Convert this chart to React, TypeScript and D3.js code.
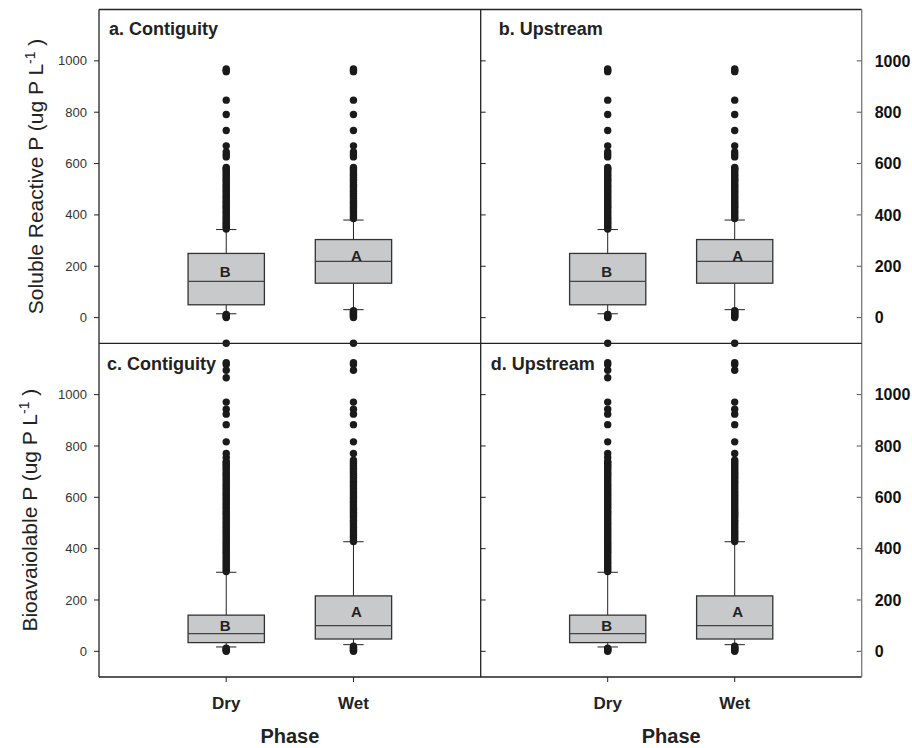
import React from 'react';
import * as d3 from 'd3';

// Categories and axis ticks
const phases = ['Dry', 'Wet'];
const yTicks = [0, 200, 400, 600, 800, 1000];

// Soluble reactive P box statistics (Dry, Wet)
const srpLow = [15, 31];
const srpQ1 = [50, 134];
const srpMedian = [141, 219];
const srpQ3 = [250, 304];
const srpHigh = [343, 380];
const srpLetters = ['B', 'A'];
const srpLetterAt = [178, 243];

// Bioavailable P box statistics (Dry, Wet)
const bapLow = [17, 26];
const bapQ1 = [34, 48];
const bapMedian = [69, 100];
const bapQ3 = [141, 216];
const bapHigh = [308, 427];
const bapLetters = ['B', 'A'];
const bapLetterAt = [100, 153];

// Outliers
const srpDryOut = [0, 3, 6, 9, 12,
  345, 352, 358, 366, 371, 379, 386, 392, 400, 407, 413, 421, 428, 434, 442, 449, 455, 463, 470,
  476, 484, 491, 497, 505, 512, 518, 526, 533, 539, 547, 554, 561, 568, 575, 580, 585,
  626, 635, 645, 669, 729, 791, 847, 958, 963, 968];
const srpWetOut = [0, 4, 8, 12, 16, 20, 24, 27,
  386, 392, 400, 407, 413, 421, 428, 434, 442, 449, 455, 463, 470,
  476, 484, 491, 497, 505, 512, 518, 526, 533, 539, 547, 554, 561, 568, 575, 580, 585,
  626, 635, 645, 669, 729, 791, 847, 958, 963, 968];
const bapDryOut = [0, 3, 6, 9, 12,
  311, 318, 326, 333, 341, 348, 356, 364, 371, 379, 386, 394, 402, 409, 417, 424, 432, 440,
  447, 455, 462, 470, 478, 485, 493, 500, 508, 516, 523, 531, 538, 546, 554, 561, 569, 576,
  584, 592, 599, 607, 614, 622, 630, 637, 645, 652, 660, 668, 675, 683, 690, 698, 706, 713,
  721, 728, 735, 740, 755, 771, 816, 883, 924, 943, 971, 1066, 1095, 1117, 1124, 1200];
const bapWetOut = [0, 4, 8, 12, 16, 20,
  428, 435, 443, 450, 458, 466, 473, 481, 488, 496, 504, 511, 519, 526, 534, 542, 549, 557,
  564, 572, 580, 587, 595, 602, 610, 618, 625, 633, 640, 648, 656, 663, 671, 678, 686, 694,
  701, 709, 716, 724, 732, 739, 745, 771, 816, 883, 924, 943, 971, 1095, 1117, 1124, 1200];

const FONT = '"Liberation Sans", Arial, Helvetica, sans-serif';
const frame = { left: 99, mid: 480.7, right: 861.7, top: 9.5, midY: 343.3, bottom: 677 };

type Stats = {
  low: number[]; q1: number[]; median: number[]; q3: number[]; high: number[];
  letters: string[]; letterAt: number[]; outliers: number[][];
};

const srp: Stats = { low: srpLow, q1: srpQ1, median: srpMedian, q3: srpQ3, high: srpHigh,
  letters: srpLetters, letterAt: srpLetterAt, outliers: [srpDryOut, srpWetOut] };
const bap: Stats = { low: bapLow, q1: bapQ1, median: bapMedian, q3: bapQ3, high: bapHigh,
  letters: bapLetters, letterAt: bapLetterAt, outliers: [bapDryOut, bapWetOut] };

type PanelProps = {
  x0: number; x1: number; y0: number; y1: number; stats: Stats;
  title: string; tdx: number; tdy: number; side: 'left' | 'right'; showX: boolean;
};

const Panel = ({ x0, x1, y0, y1, stats, title, tdx, tdy, side, showX }: PanelProps) => {
  const x = d3.scaleLinear().domain([0, 3]).range([x0, x1]);
  const y = d3.scaleLinear().domain([-100, 1200]).range([y1, y0]);
  const halfBox = 0.3;
  const halfCap = 0.08;

  return (
    <g>
      {/* y ticks on the left edge */}
      {yTicks.map(t => (
        <line key={'lt' + t}
          x1={side === 'left' ? x0 - 5 : x0} x2={side === 'left' ? x0 : x0 + 5}
          y1={y(t)} y2={y(t)} stroke="#222" strokeWidth={1} />
      ))}
      {side === 'left' && yTicks.map(t => (
        <text key={'ll' + t} x={x0 - 12} y={y(t)} dy="0.35em" textAnchor="end"
          fontFamily={FONT} fontSize={13} fill="#333">{t}</text>
      ))}
      {side === 'right' && yTicks.map(t => (
        <g key={'rt' + t}>
          <line x1={x1 - 5} x2={x1} y1={y(t)} y2={y(t)} stroke="#555" strokeWidth={1} />
          <text x={x1 + 13} y={y(t)} dy="0.36em" fontFamily={FONT} fontSize={16}
            fontWeight="bold" fill="#111">{t}</text>
        </g>
      ))}

      {phases.map((p, i) => {
        const cx = x(i + 1);
        return (
          <g key={p}>
            {/* whiskers */}
            <line x1={cx} x2={cx} y1={y(stats.q3[i])} y2={y(stats.high[i])} stroke="#222" strokeWidth={1} />
            <line x1={cx} x2={cx} y1={y(stats.q1[i])} y2={y(stats.low[i])} stroke="#222" strokeWidth={1} />
            {/* box */}
            <rect x={x(i + 1 - halfBox)} width={x(i + 1 + halfBox) - x(i + 1 - halfBox)}
              y={y(stats.q3[i])} height={y(stats.q1[i]) - y(stats.q3[i])}
              fill="#c8c9cb" stroke="#333" strokeWidth={1.3} />
            <line x1={x(i + 1 - halfBox)} x2={x(i + 1 + halfBox)}
              y1={y(stats.median[i])} y2={y(stats.median[i])} stroke="#444" strokeWidth={1.3} />
            {/* outliers */}
            {stats.outliers[i].map((v, j) => (
              <circle key={j} cx={cx} cy={y(v)} r={3.7} fill="#1a1a1a" />
            ))}
            {/* caps */}
            <line x1={x(i + 1 - halfCap)} x2={x(i + 1 + halfCap)}
              y1={y(stats.high[i])} y2={y(stats.high[i])} stroke="#222" strokeWidth={1} />
            <line x1={x(i + 1 - halfCap)} x2={x(i + 1 + halfCap)}
              y1={y(stats.low[i])} y2={y(stats.low[i])} stroke="#222" strokeWidth={1} />
            <text x={cx + (i === 1 ? 3 : -1)} y={y(stats.letterAt[i])} dy="0.36em" textAnchor="middle"
              fontFamily={FONT} fontSize={15} fontWeight="bold" fill="#222">{stats.letters[i]}</text>
            {showX && (
              <g>
                <line x1={cx} x2={cx} y1={y1} y2={y1 + 5} stroke="#222" strokeWidth={1} />
                <text x={cx} y={709} textAnchor="middle" fontFamily={FONT} fontSize={17}
                  fontWeight="bold" fill="#222">{p}</text>
              </g>
            )}
          </g>
        );
      })}

      <text x={x0 + tdx} y={y0 + tdy} fontFamily={FONT} fontSize={18} fontWeight="bold" fill="#222">{title}</text>
    </g>
  );
};

export default function App() {
  const f = frame;
  return (
    <svg width={912} height={748} style={{ position: 'absolute', left: 0, top: 0, background: '#fff' }}>
      <rect x={0} y={0} width={912} height={748} fill="#fff" />
      <Panel x0={f.left} x1={f.mid} y0={f.top} y1={f.midY} stats={srp} title="a. Contiguity"
        tdx={10} tdy={25.5} side="left" showX={false} />
      <Panel x0={f.mid} x1={f.right} y0={f.top} y1={f.midY} stats={srp} title="b. Upstream"
        tdx={18} tdy={25.5} side="right" showX={false} />
      <Panel x0={f.left} x1={f.mid} y0={f.midY} y1={f.bottom} stats={bap} title="c. Contiguity"
        tdx={8} tdy={27} side="left" showX={true} />
      <Panel x0={f.mid} x1={f.right} y0={f.midY} y1={f.bottom} stats={bap} title="d. Upstream"
        tdx={10} tdy={27} side="right" showX={true} />

      {/* frame */}
      <line x1={f.left} x2={f.right} y1={f.top} y2={f.top} stroke="#222" strokeWidth={1.3} />
      <line x1={f.left} x2={f.left} y1={f.top} y2={f.bottom} stroke="#222" strokeWidth={1.3} />
      <line x1={f.left} x2={f.right} y1={f.bottom} y2={f.bottom} stroke="#222" strokeWidth={1.3} />
      <line x1={f.right} x2={f.right} y1={f.top} y2={f.bottom} stroke="#777" strokeWidth={1.3} />
      <line x1={f.mid} x2={f.mid} y1={f.top} y2={f.bottom} stroke="#222" strokeWidth={1.3} />
      <line x1={f.left} x2={f.right} y1={f.midY} y2={f.midY} stroke="#222" strokeWidth={1.3} />

      {/* axis titles */}
      <text transform={`translate(43,${(f.top + f.midY) / 2}) rotate(-90)`} textAnchor="middle"
        fontFamily={FONT} fontSize={21} fill="#222">
        Soluble Reactive P (ug P L<tspan dy={-8} fontSize={14}>-1</tspan><tspan dy={8}> )</tspan>
      </text>
      <text transform={`translate(37,${(f.midY + f.bottom) / 2}) rotate(-90)`} textAnchor="middle"
        fontFamily={FONT} fontSize={21} fill="#222">
        Bioavaiolable P (ug P L<tspan dy={-8} fontSize={14}>-1</tspan><tspan dy={8}> )</tspan>
      </text>
      <text x={(f.left + f.mid) / 2} y={743} textAnchor="middle" fontFamily={FONT} fontSize={20}
        fontWeight="bold" fill="#222">Phase</text>
      <text x={(f.mid + f.right) / 2} y={743} textAnchor="middle" fontFamily={FONT} fontSize={20}
        fontWeight="bold" fill="#222">Phase</text>
    </svg>
  );
}
